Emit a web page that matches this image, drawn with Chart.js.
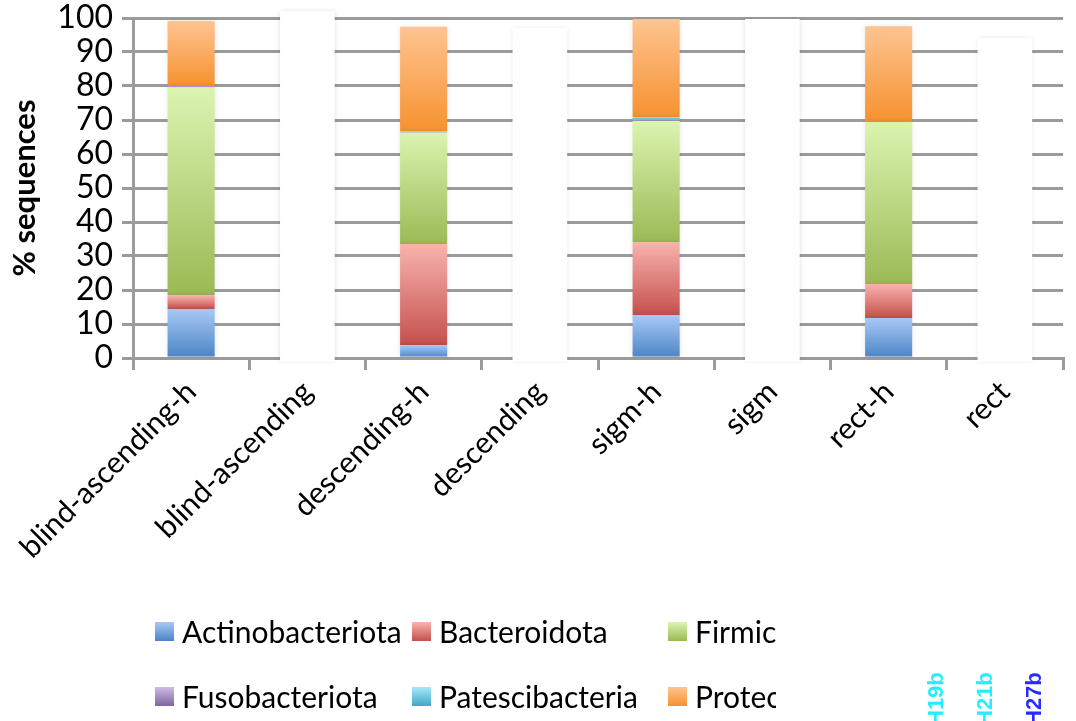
<!DOCTYPE html>
<html>
<head>
<meta charset="utf-8">
<script src="https://cdn.jsdelivr.net/npm/chart.js@4/dist/chart.umd.min.js"></script>
<style>
  html, body { margin: 0; padding: 0; background: #fff; }
  #wrap { position: relative; width: 1076px; height: 721px; overflow: hidden; }
  #c { position: absolute; left: 0; top: 0; }
  #legend { position: absolute; left: 0; top: 600px; width: 776px; height: 121px; overflow: hidden;
            font-family: Lato, sans-serif; font-size: 30px; color: #000; }
  .item { position: absolute; white-space: nowrap; line-height: 34px; }
  .box { position: absolute; width: 19px; height: 19px; top: 8px; }
  .lbl { position: absolute; left: 27px; top: 0; }
</style>
</head>
<body>
<div id="wrap">
  <canvas id="c" width="1076" height="721"></canvas>
  <div id="legend"></div>
</div>
<script>
// ---- data ----
const categories = ['blind-ascending-h', 'blind-ascending', 'descending-h', 'descending', 'sigm-h', 'sigm', 'rect-h', 'rect'];
const seriesNames = ['Actinobacteriota', 'Bacteroidota', 'Firmicutes', 'Fusobacteriota', 'Patescibacteria', 'Proteobacteria'];
const actinobacteriota = [14.4, null, 3.8, null, 12.6, null, 11.8, null];
const bacteroidota     = [4.1,  null, 29.7, null, 21.5, null, 10.0, null];
const firmicutes       = [61.1, null, 32.8, null, 35.7, null, 47.7, null];
const fusobacteriota   = [0.4,  null, 0.3,  null, 0.4,  null, 0.2,  null];
const patescibacteria  = [0,    null, 0,    null, 0.5,  null, 0,    null];
const proteobacteria   = [19.1, null, 30.8, null, 29.0, null, 27.9, null];
// bars of the non-"-h" samples rendered blank (white) in the original
const blankBars        = [null, [-1, 102], null, [-1, 97.1], null, [-1, 99.7], null, [-1, 94.1]];
const yTicks = [0, 10, 20, 30, 40, 50, 60, 70, 80, 90, 100];
const stampLabels = ['H19b', 'H21b', 'H27b'];

// ---- styles ----
const lightColors = ['#a9c8f6', '#f9b3af', '#dcf4b0', '#cdbde3', '#a6e8fa', '#fec492'];
const darkColors  = ['#4a84c6', '#c4504c', '#9bba55', '#8064a2', '#3fa8c4', '#f6922f'];
const seriesValues = [actinobacteriota, bacteroidota, firmicutes, fusobacteriota, patescibacteria, proteobacteria];
const GRID = '#9b9b9b';

function gradFill(i) {
  return function (ctx) {
    if (ctx.type !== 'data') return darkColors[i];
    const chart = ctx.chart;
    if (!chart.chartArea) return darkColors[i];
    const y = chart.scales.y;
    const idx = ctx.dataIndex;
    let start = 0;
    for (let k = 0; k < i; k++) start += seriesValues[k][idx] || 0;
    const end = start + (seriesValues[i][idx] || 0);
    const y0 = y.getPixelForValue(end), y1 = y.getPixelForValue(start);
    if (!isFinite(y0) || !isFinite(y1) || y0 === y1) return darkColors[i];
    const g = chart.ctx.createLinearGradient(0, y0, 0, y1);
    g.addColorStop(0, lightColors[i]);
    g.addColorStop(1, darkColors[i]);
    return g;
  };
}

const datasets = seriesNames.map((name, i) => ({
  label: name,
  data: seriesValues[i],
  backgroundColor: gradFill(i),
  borderWidth: 0,
  stack: 'main',
  categoryPercentage: 1,
  barPercentage: 0.405
}));
datasets.push({
  label: 'blank',
  data: blankBars,
  backgroundColor: '#ffffff',
  borderWidth: 0,
  stack: 'blank',
  grouped: false,
  categoryPercentage: 1,
  barPercentage: 0.47,
  clip: false
});

const shadowPlugin = {
  id: 'shadow',
  beforeDatasetDraw(chart) {
    const c = chart.ctx;
    c.save();
    c.shadowColor = 'rgba(0,0,0,0.13)';
    c.shadowBlur = 5;
    c.shadowOffsetX = 0;
    c.shadowOffsetY = 0;
  },
  afterDatasetDraw(chart) { chart.ctx.restore(); }
};

const stampPlugin = {
  id: 'stamp',
  afterDraw(chart) {
    const c = chart.ctx;
    const xs = [937, 986, 1035];
    const cols = ['#22eeff', '#22eeff', '#2a2aff'];
    c.save();
    c.font = 'bold 22px "Liberation Sans", Arial, sans-serif';
    c.textBaseline = 'middle';
    c.textAlign = 'left';
    stampLabels.forEach((t, i) => {
      c.save();
      c.translate(xs[i], 726);
      c.rotate(-Math.PI / 2);
      c.fillStyle = cols[i];
      c.fillText(t, 0, 0);
      c.restore();
    });
    c.restore();
  }
};

new Chart(document.getElementById('c'), {
  type: 'bar',
  data: { labels: categories, datasets },
  options: {
    responsive: false,
    animation: false,
    events: [],
    layout: { padding: { top: 18, right: 13, left: 0, bottom: 0 } },
    plugins: { legend: { display: false }, tooltip: { enabled: false } },
    scales: {
      x: {
        stacked: true,
        offset: true,
        afterFit(scale) { scale.height = 721 - 358; },
        grid: { offset: true, drawOnChartArea: false, drawTicks: true, tickLength: 12, color: GRID, lineWidth: 3 },
        border: { display: true, color: GRID, width: 3 },
        ticks: {
          autoSkip: false, minRotation: 45, maxRotation: 45, padding: 4,
          color: '#000', font: { family: 'Lato', size: 30 }
        }
      },
      y: {
        stacked: true,
        min: 0, max: 100,
        afterFit(scale) { scale.width = 133; scale.paddingTop = 0; scale.paddingBottom = 0; },
        afterBuildTicks(scale) { scale.ticks = yTicks.map(v => ({ value: v })); },
        grid: { color: GRID, lineWidth: 3, tickLength: 11, drawTicks: true },
        border: { display: true, color: GRID, width: 3 },
        ticks: { autoSkip: false, stepSize: 10, color: '#000', padding: 9, font: { family: 'Lato', size: 32 } },
        title: {
          display: true, text: '% sequences', color: '#000',
          font: { family: 'Lato', size: 31, weight: 'bold' },
          padding: { top: 6, bottom: 0 }
        }
      }
    }
  },
  plugins: [shadowPlugin, stampPlugin]
});

// ---- legend (HTML, clipped like the original) ----
const legendCols = [155, 412, 668];
const legendRows = [614, 679];
const legendEl = document.getElementById('legend');
seriesNames.forEach((name, i) => {
  const row = Math.floor(i / 3), col = i % 3;
  const item = document.createElement('div');
  item.className = 'item';
  item.style.left = legendCols[col] + 'px';
  item.style.top = (legendRows[row] - 600) + 'px';
  const box = document.createElement('span');
  box.className = 'box';
  box.style.background = 'linear-gradient(to bottom,' + lightColors[i] + ',' + darkColors[i] + ')';
  const lbl = document.createElement('span');
  lbl.className = 'lbl';
  lbl.textContent = name;
  item.appendChild(box);
  item.appendChild(lbl);
  legendEl.appendChild(item);
});
</script>
</body>
</html>
